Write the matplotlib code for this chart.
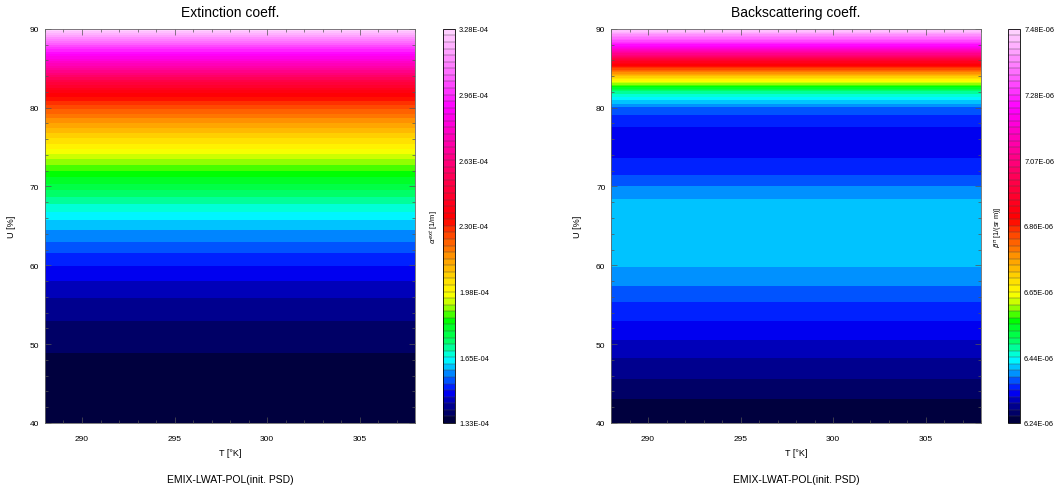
import numpy as np
import matplotlib.pyplot as plt
from matplotlib.colors import LinearSegmentedColormap
from matplotlib.ticker import MultipleLocator

# relative humidity grid [%] and temperature range [K]
humidity = [40, 42, 44, 46, 48, 50, 52, 54, 56, 58, 60, 62, 64,
            66, 68, 70, 72, 74, 76, 78, 80, 82, 84, 86, 88, 90]
temperature = [288, 308]

# extinction coefficient [1e-4 1/m], read per humidity level
extinction = [1.330, 1.334, 1.340, 1.347, 1.357, 1.370, 1.386, 1.405, 1.430,
              1.460, 1.495, 1.535, 1.580, 1.628, 1.695, 1.770, 1.850, 1.940,
              2.040, 2.140, 2.250, 2.380, 2.580, 2.800, 3.020, 3.280]

# backscattering coefficient [1e-6 1/(sr m)]
backscatter = [6.240, 6.252, 6.268, 6.285, 6.300, 6.318, 6.335, 6.352, 6.370,
               6.392, 6.407, 6.414, 6.418, 6.418, 6.410, 6.385, 6.355, 6.340,
               6.338, 6.345, 6.380, 6.480, 6.720, 6.960, 7.250, 7.480]

ext_range = [1.33, 3.28]
bsc_range = [6.24, 7.48]
ext_ticklabels = ['1.33E-04', '1.65E-04', '1.98E-04', '2.30E-04',
                  '2.63E-04', '2.96E-04', '3.28E-04']
bsc_ticklabels = ['6.24E-06', '6.44E-06', '6.65E-06', '6.86E-06',
                  '7.07E-06', '7.28E-06', '7.48E-06']

# IDL-like rainbow with black bottom and white-pink top
cmap = LinearSegmentedColormap.from_list('idl_rainbow', [
    (0.00, '#00002a'), (0.04, '#000090'), (0.08, '#0000ff'),
    (0.115, '#0070ff'), (0.16, '#00ffff'), (0.21, '#00ff60'),
    (0.26, '#00ff00'), (0.30, '#c0ff00'), (0.33, '#ffff00'),
    (0.40, '#ffb000'), (0.46, '#ff6000'), (0.52, '#ff0000'),
    (0.62, '#ff0050'), (0.70, '#ff00a0'), (0.80, '#ff00ff'),
    (0.88, '#ff60ff'), (1.00, '#ffd8ff')])

plt.rcParams['font.family'] = ['Liberation Sans', 'DejaVu Sans']
fig = plt.figure(figsize=(10.58, 4.89), dpi=100)

panels = [
    ('Extinction coeff.', extinction, ext_range, ext_ticklabels,
     r'$\alpha^{ext}$ [1/m]', 0.0425, 0.4187),
    ('Backscattering coeff.', backscatter, bsc_range, bsc_ticklabels,
     r'$\beta^{\pi}$ [1/(sr m)]', 0.5775, 0.9527),
]

T, U = np.meshgrid(temperature, humidity)
for title, values, vrange, ticklabels, clabel, x0, cx0 in panels:
    ax = fig.add_axes([x0, 0.133, 0.35, 0.806])
    cax = fig.add_axes([cx0, 0.133, 0.0113, 0.806])

    Z = np.tile(np.array(values)[:, None], (1, len(temperature)))
    levels = np.linspace(vrange[0], vrange[1], 61)
    cs = ax.contourf(T, U, Z, levels=levels, cmap=cmap)

    ax.set_xlim(288, 308)
    ax.set_ylim(40, 90)
    ax.xaxis.set_major_locator(MultipleLocator(5))
    ax.xaxis.set_minor_locator(MultipleLocator(1))
    ax.yaxis.set_major_locator(MultipleLocator(10))
    ax.yaxis.set_minor_locator(MultipleLocator(2))
    ax.tick_params(which='both', direction='in', top=True, right=True,
                   width=0.5, color='#555555', labelsize=6)
    ax.tick_params(which='major', length=4)
    ax.tick_params(which='minor', length=2.5)
    ax.tick_params(axis='x', pad=9)
    ax.tick_params(axis='y', pad=4)
    for sp in ax.spines.values():
        sp.set_linewidth(0.6)
        sp.set_color('#666666')
    ax.set_title(title, fontsize=10, pad=9)
    ax.set_xlabel('T [°K]', fontsize=6.5, labelpad=4)
    ax.set_ylabel('U [%]', fontsize=6.5, labelpad=10)
    ax.text(0.5, -0.13, 'EMIX-LWAT-POL(init. PSD)', transform=ax.transAxes,
            ha='center', va='top', fontsize=7.5)

    cb = fig.colorbar(cs, cax=cax, drawedges=True)
    cb.dividers.set_linewidth(0.3)
    cb.dividers.set_color('#444444')
    cb.outline.set_linewidth(0.6)
    cb.set_ticks(np.linspace(vrange[0], vrange[1], len(ticklabels)))
    cb.set_ticklabels(ticklabels)
    cax.tick_params(length=0, labelsize=5.3, pad=3)
    cb.set_label(clabel, fontsize=5.3, labelpad=2)
    cax.yaxis.set_label_position('left')

fig.savefig('out.png', dpi=100)
